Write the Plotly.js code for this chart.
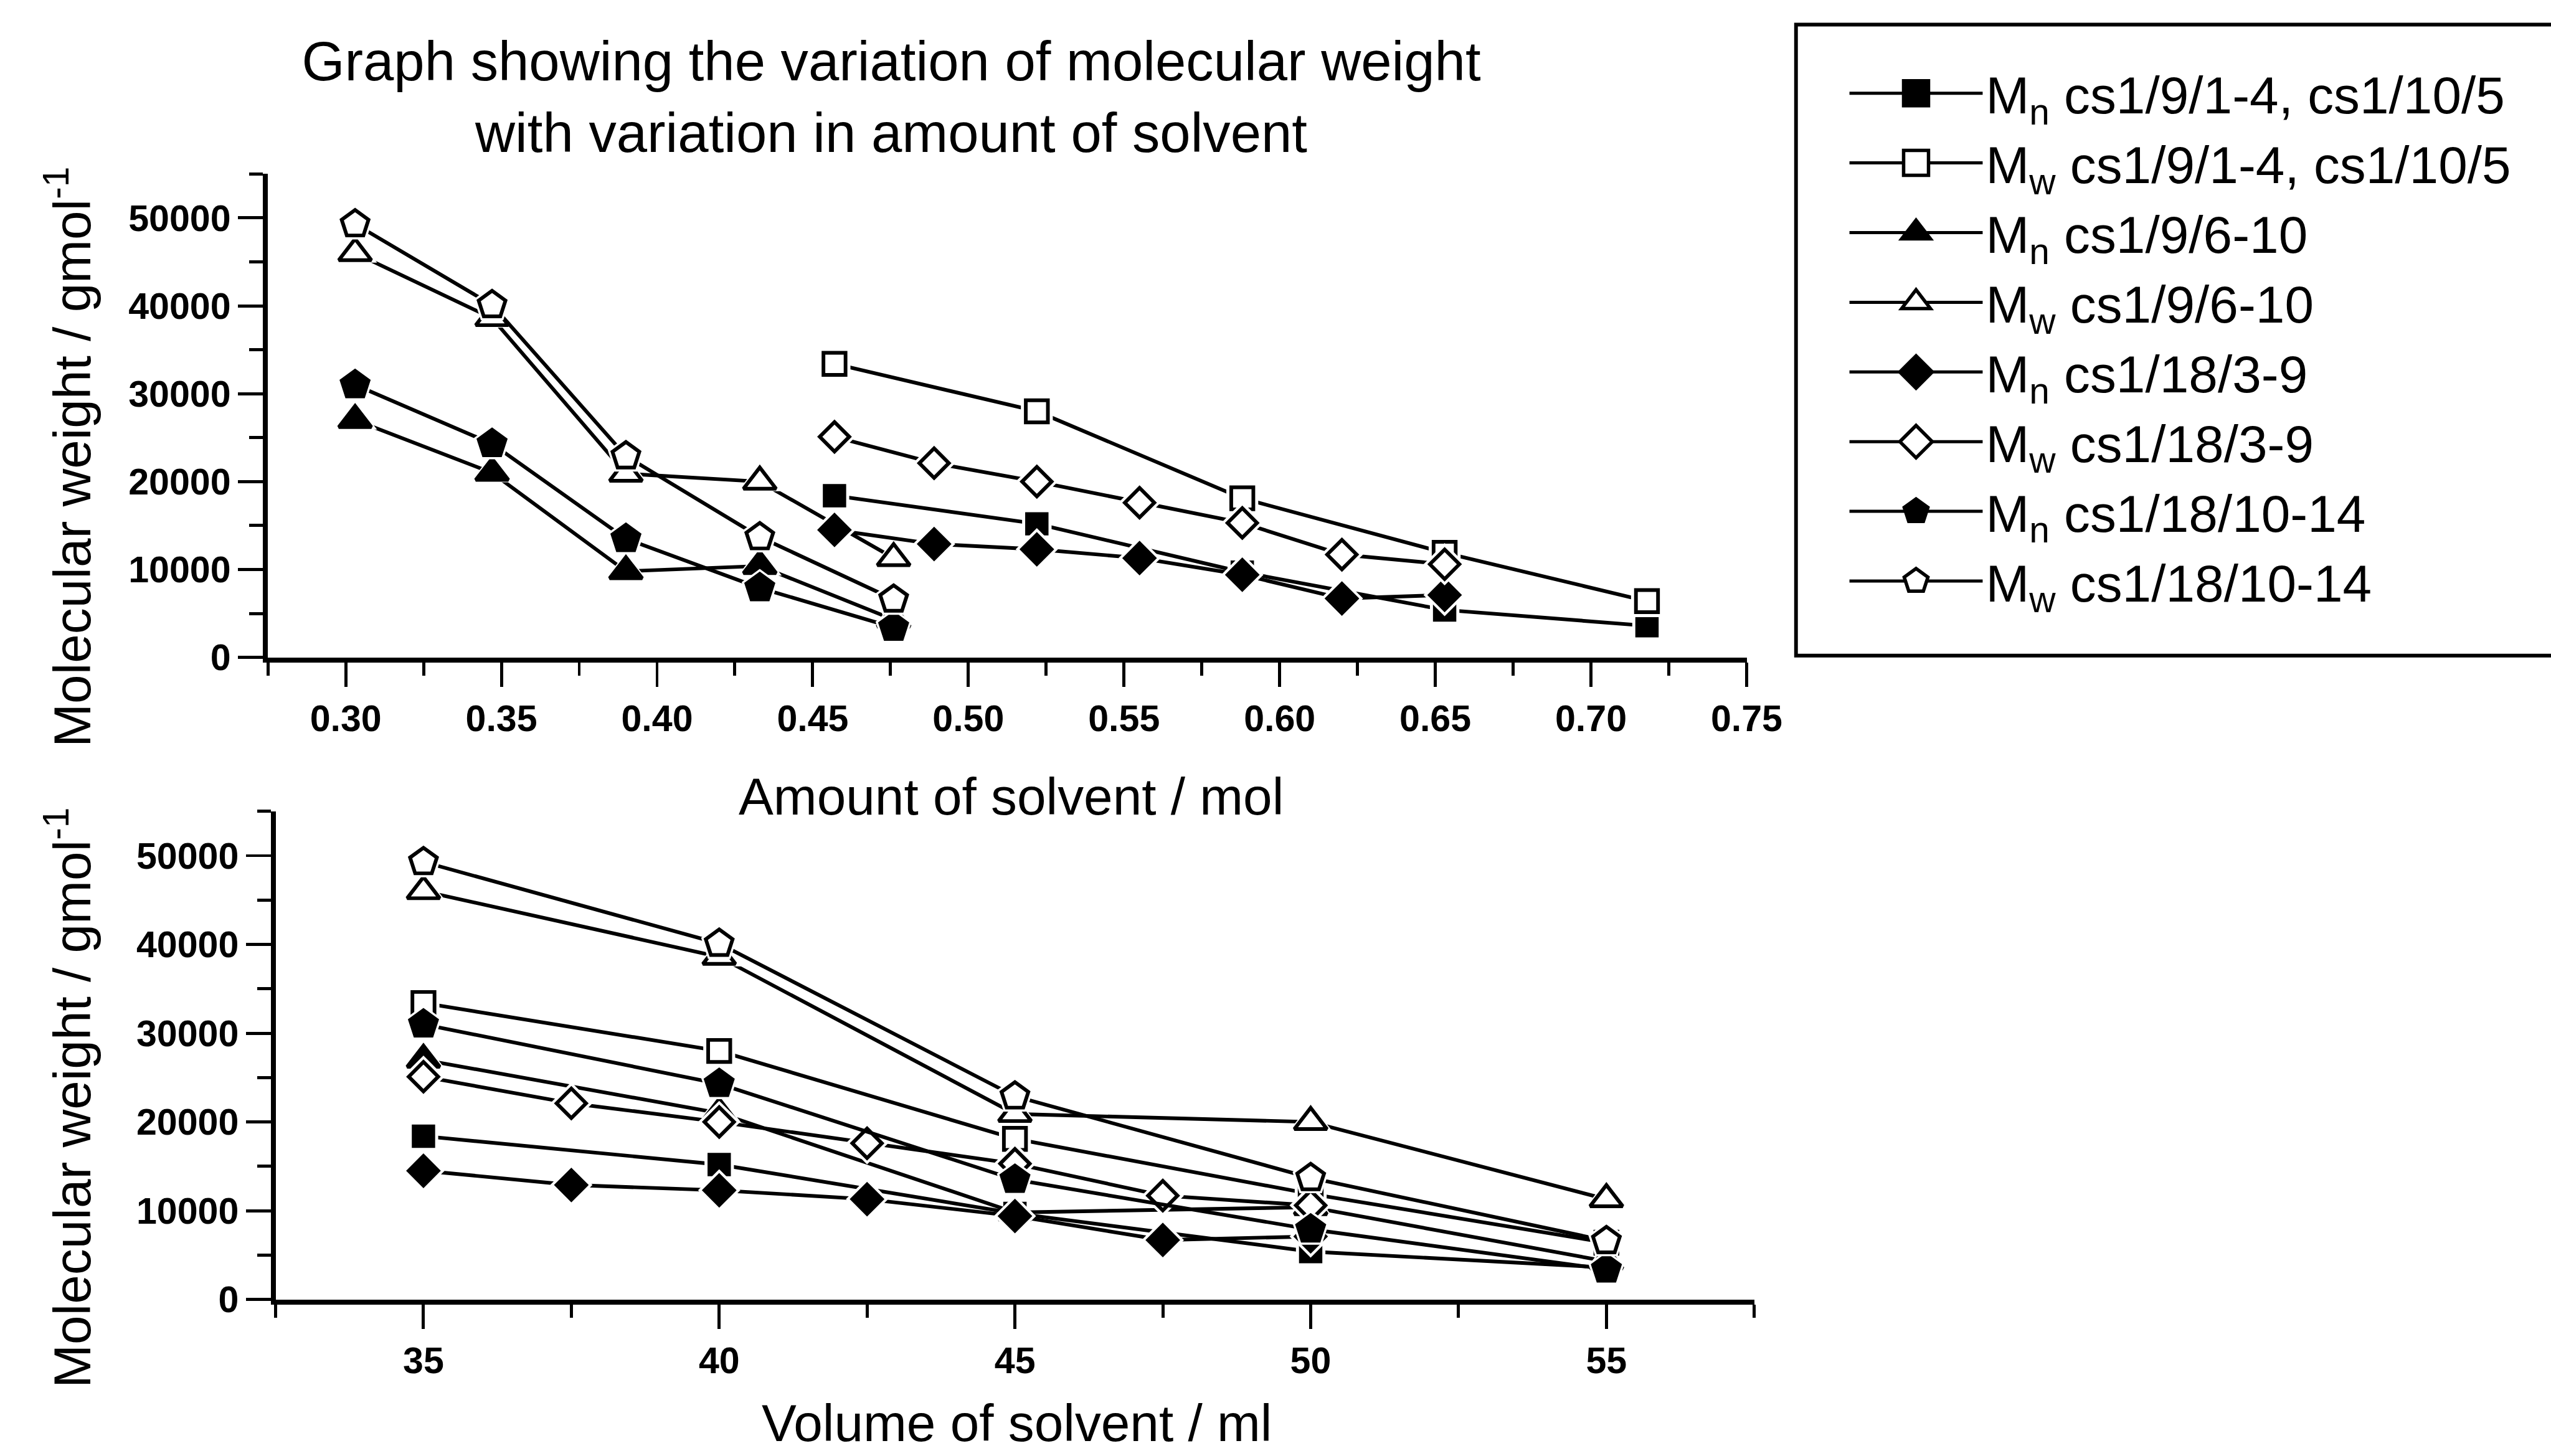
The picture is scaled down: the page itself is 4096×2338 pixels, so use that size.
<!DOCTYPE html>
<html>
<head>
<meta charset="utf-8">
<script src="https://cdn.plot.ly/plotly-3.0.1.min.js"></script>
<style>
  html, body { margin: 0; padding: 0; background: #fff; }
  #chart { width: 4096px; height: 2338px; }
</style>
</head>
<body>
<div id="chart"></div>
<script>
// Molecular weight (g/mol) of the polymer batches against the solvent used,
// plotted once against moles of solvent and once against millilitres.

// Solvent volume (ml)
const volumeMl = [35, 40, 45, 50, 55];
const volumeMlC = [35, 37.5, 40, 42.5, 45, 47.5, 50];

// Solvent amount (mol) for each batch series
const molA = [0.457, 0.522, 0.588, 0.653, 0.718];                // cs1/9/1-4, cs1/10/5
const molB = [0.303, 0.347, 0.390, 0.433, 0.476];                // cs1/9/6-10
const molC = [0.457, 0.489, 0.522, 0.555, 0.588, 0.620, 0.653];  // cs1/18/3-9
const molD = [0.303, 0.347, 0.390, 0.433, 0.476];                // cs1/18/10-14

// Number-average (Mn) and weight-average (Mw) molecular weights
const mnA = [18400, 15200, 9700, 5400, 3600];
const mwA = [33400, 28000, 18100, 11900, 6400];
const mnB = [27000, 21000, 9800, 10400, 4300];
const mwB = [46000, 38600, 20900, 20000, 11300];
const mnC = [14500, 12900, 12300, 11300, 9400, 6700, 7100];
const mwC = [25100, 22100, 20000, 17600, 15300, 11700, 10600];
const mnD = [31000, 24300, 13500, 7900, 3400];
const mwD = [49300, 40100, 22900, 13700, 6600];

const seriesNames = [
  'M<sub>n</sub> cs1/9/1-4, cs1/10/5',
  'M<sub>w</sub> cs1/9/1-4, cs1/10/5',
  'M<sub>n</sub> cs1/9/6-10',
  'M<sub>w</sub> cs1/9/6-10',
  'M<sub>n</sub> cs1/18/3-9',
  'M<sub>w</sub> cs1/18/3-9',
  'M<sub>n</sub> cs1/18/10-14',
  'M<sub>w</sub> cs1/18/10-14'
];

const titleText = 'Graph showing the variation of molecular weight<br>with variation in amount of solvent';
const xTitleMol = 'Amount of solvent / mol';
const xTitleMl = 'Volume of solvent / ml';
const yTitle = 'Molecular weight / gmol<sup>-1</sup>';

// ---- geometry helpers (design drawn on a 4156 x 2372 grid) ----
const REF_W = 4156, REF_H = 2372;
const S = 4096 / REF_W;
const fx = px => px / REF_W;
const fy = px => 1 - px / REF_H;
const FONT = 'Liberation Sans, Arial, Helvetica, sans-serif';

const LINE_W = 6 * S;
const MARKER_LW = 6 * S;
const HALO = 16 * S;

const styles = [
  {symbol: 'square',      size: 32 * S, filled: true},
  {symbol: 'square',      size: 36 * S, filled: false},
  {symbol: 'triangle-up', size: 46 * S, filled: true},
  {symbol: 'triangle-up', size: 46 * S, filled: false},
  {symbol: 'diamond',     size: 37 * S, filled: true},
  {symbol: 'diamond',     size: 37 * S, filled: false},
  {symbol: 'pentagon',    size: 46 * S, filled: true},
  {symbol: 'pentagon',    size: 46 * S, filled: false}
];

const molX = [molA, molA, molB, molB, molC, molC, molD, molD];
const mlX = [volumeMl, volumeMl, volumeMl, volumeMl, volumeMlC, volumeMlC, volumeMl, volumeMl];
const values = [mnA, mwA, mnB, mwB, mnC, mwC, mnD, mwD];

const traces = [];

function addSeries(xs, ys, st, xa, ya) {
  // connecting line, with a white halo at each point so the line stops short of the symbol
  traces.push({
    type: 'scatter', mode: 'lines+markers', x: xs, y: ys, xaxis: xa, yaxis: ya,
    line: {color: '#000', width: LINE_W},
    marker: {symbol: st.symbol, size: st.size + HALO, color: '#fff', line: {width: 0}},
    showlegend: false, hoverinfo: 'skip'
  });
  // the symbols themselves
  traces.push({
    type: 'scatter', mode: 'markers', x: xs, y: ys, xaxis: xa, yaxis: ya,
    marker: {symbol: st.symbol, size: st.size, color: st.filled ? '#000' : '#fff',
             line: {color: '#000', width: MARKER_LW}},
    showlegend: false
  });
}

for (let i = 0; i < values.length; i++) {
  addSeries(molX[i], values[i], styles[i], 'x', 'y');
  addSeries(mlX[i], values[i], styles[i], 'x2', 'y2');
}

// legend keys
for (let i = 0; i < values.length; i++) {
  traces.push({
    type: 'scatter', mode: 'lines+markers', x: [null], y: [null], xaxis: 'x', yaxis: 'y',
    name: seriesNames[i],
    line: {color: '#000', width: 5},
    marker: {symbol: styles[i].symbol, size: 16, color: styles[i].filled ? '#000' : '#fff',
             line: {color: '#000', width: 2}},
    showlegend: true
  });
}

function axis(extra, minorStep) {
  return Object.assign({
    showline: true, linecolor: '#000', linewidth: 8 * S, mirror: false,
    showgrid: false, zeroline: false,
    ticks: 'outside', ticklen: 40 * S, tickwidth: 5 * S, tickcolor: '#000',
    tickfont: {family: FONT, size: 60 * S, color: '#000', weight: 700},
    minor: {ticks: 'outside', ticklen: 22 * S, tickwidth: 5 * S, tickcolor: '#000',
            showgrid: false, dtick: minorStep},
    fixedrange: true
  }, extra);
}

const axisFont = {family: FONT, size: 85 * S, color: '#000'};

const layout = {
  width: 4096, height: 2338,
  margin: {l: 0, r: 0, t: 0, b: 0, pad: 0},
  paper_bgcolor: '#fff', plot_bgcolor: '#fff',
  showlegend: true,
  title: {
    text: titleText, xref: 'paper', yref: 'paper',
    x: fx(1452), xanchor: 'center', y: fy(131), yanchor: 'middle',
    font: {family: FONT, size: 90 * S, color: '#000'}
  },
  xaxis: axis({domain: [fx(436), fx(2846)], range: [0.2749, 0.7501], tick0: 0, dtick: 0.05,
               tickformat: '.2f', anchor: 'y', ticklabelstandoff: 12 * S}, 0.025),
  yaxis: axis({domain: [fy(1071), fy(283.4)], range: [0, 55000], tick0: 0, dtick: 10000,
               tickformat: 'd', anchor: 'x', ticklabelstandoff: 12 * S}, 5000),
  xaxis2: axis({domain: [fx(449), fx(2858)], range: [32.5, 57.5], tick0: 0, dtick: 5,
                anchor: 'y2', ticklabelstandoff: 12 * S}, 2.5),
  yaxis2: axis({domain: [fy(2117), fy(1321.7)], range: [0, 55000], tick0: 0, dtick: 10000,
                tickformat: 'd', anchor: 'x2', ticklabelstandoff: 12 * S}, 5000),
  annotations: [
    {text: xTitleMol, xref: 'paper', yref: 'paper', x: fx(1647), y: fy(1298),
     xanchor: 'center', yanchor: 'middle', showarrow: false, font: axisFont},
    {text: xTitleMl, xref: 'paper', yref: 'paper', x: fx(1656), y: fy(2318),
     xanchor: 'center', yanchor: 'middle', showarrow: false, font: axisFont},
    {text: yTitle, xref: 'paper', yref: 'paper', x: fx(112), y: fy(744), textangle: -90,
     xanchor: 'center', yanchor: 'middle', showarrow: false, font: axisFont},
    {text: yTitle, xref: 'paper', yref: 'paper', x: fx(112), y: fy(1788), textangle: -90,
     xanchor: 'center', yanchor: 'middle', showarrow: false, font: axisFont}
  ],
  // frame around the key
  shapes: [
    {type: 'rect', xref: 'paper', yref: 'paper', x0: fx(2926), x1: fx(4175), y0: fy(40), y1: fy(1068),
     line: {color: '#000', width: 6 * S}, fillcolor: 'rgba(0,0,0,0)', layer: 'above'}
  ],
  legend: {
    x: fx(3008), y: fy(90), xanchor: 'left', yanchor: 'top', xref: 'paper', yref: 'paper',
    bgcolor: 'rgba(0,0,0,0)', borderwidth: 0,
    font: {family: FONT, size: 85 * S, color: '#000'},
    itemwidth: 217 * S, tracegroupgap: 0
  }
};

Plotly.newPlot('chart', traces, layout, {displayModeBar: false, staticPlot: true}).then(gd => {
  // enlarge the legend symbols to the size of the plotted ones
  gd.querySelectorAll('.legend .legendpoints path.scatterpts').forEach(p => {
    const t = p.getAttribute('transform') || '';
    p.setAttribute('transform', t + ' scale(2.5)');
    p.style.strokeWidth = '2.2px';
  });
});
</script>
</body>
</html>
